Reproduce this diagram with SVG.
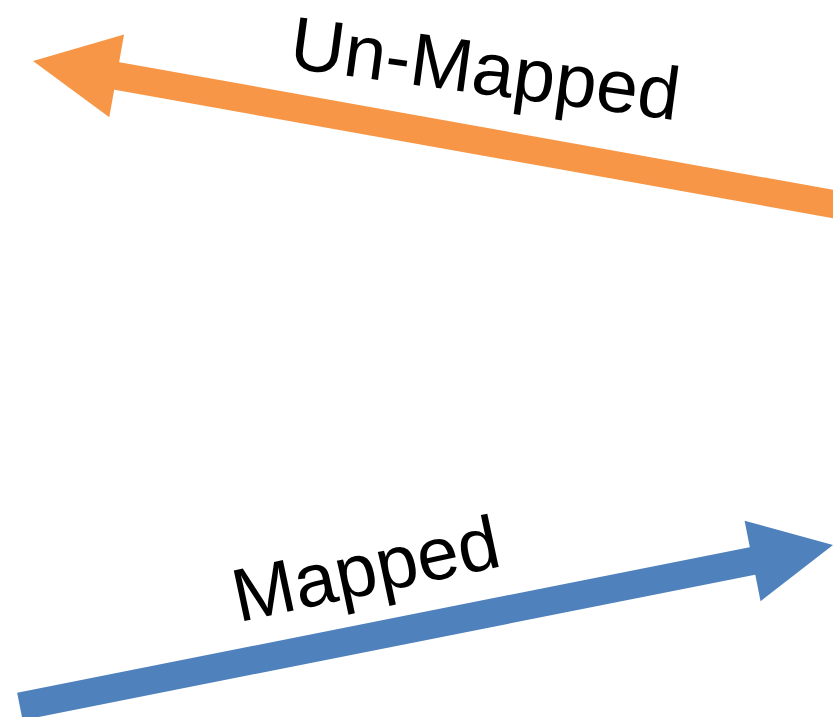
<svg xmlns="http://www.w3.org/2000/svg" width="833" height="717" viewBox="0 0 833 717">
  <style>
    .label { font-family: "Liberation Sans", Arial, Helvetica, sans-serif; font-size: 75px; fill: #000; text-anchor: middle; }
    .orange { fill: #F79646; }
    .blue { fill: #4F81BD; }
  </style>
  <rect width="833" height="717" fill="#fff"/>
  <g id="connectors">
    <!-- Un-Mapped: points back to the left -->
    <g id="unmapped-arrow" class="orange" transform="translate(33,61) rotate(10.13)">
      <polygon points="0,0 85,-42 85,42"/>
      <rect x="84" y="-14" width="760" height="28"/>
    </g>
    <!-- Mapped: points forward to the right, tail starts near the left edge -->
    <g id="mapped-arrow" class="blue" transform="translate(833,545) rotate(-11.23)">
      <polygon points="0,0 -82,-41 -82,41"/>
      <rect x="-829" y="-14" width="748" height="28"/>
    </g>
  </g>
  <g id="labels">
    <text class="label" transform="translate(482,94) rotate(7.7)">Un-Mapped</text>
    <text class="label" transform="translate(371,594) rotate(-12)">Mapped</text>
  </g>
</svg>
